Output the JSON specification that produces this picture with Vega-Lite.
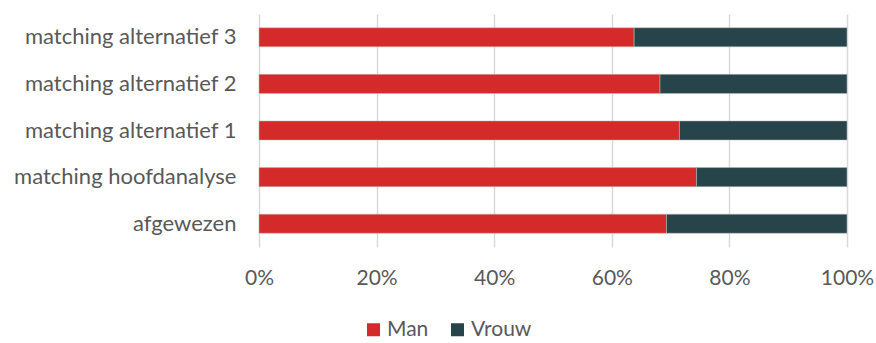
{
  "$schema": "https://vega.github.io/schema/vega-lite/v6.json",
  "autosize": {"type": "none"},
  "width": 588,
  "height": 233,
  "padding": {"left": 259, "top": 14, "right": 29, "bottom": 96},
  "background": "white",
  "data": {"values": [
    {"categorie": "matching alternatief 3", "geslacht": "Man", "aandeel": 63.8},
    {"categorie": "matching alternatief 3", "geslacht": "Vrouw", "aandeel": 36.2},
    {"categorie": "matching alternatief 2", "geslacht": "Man", "aandeel": 68.2},
    {"categorie": "matching alternatief 2", "geslacht": "Vrouw", "aandeel": 31.8},
    {"categorie": "matching alternatief 1", "geslacht": "Man", "aandeel": 71.5},
    {"categorie": "matching alternatief 1", "geslacht": "Vrouw", "aandeel": 28.5},
    {"categorie": "matching hoofdanalyse", "geslacht": "Man", "aandeel": 74.4},
    {"categorie": "matching hoofdanalyse", "geslacht": "Vrouw", "aandeel": 25.6},
    {"categorie": "afgewezen", "geslacht": "Man", "aandeel": 69.3},
    {"categorie": "afgewezen", "geslacht": "Vrouw", "aandeel": 30.7}
  ]},
  "mark": {"type": "bar", "stroke": "#bfbfbf", "strokeWidth": 0.5},
  "encoding": {
    "y": {
      "field": "categorie", "type": "nominal",
      "sort": ["matching alternatief 3", "matching alternatief 2", "matching alternatief 1", "matching hoofdanalyse", "afgewezen"],
      "scale": {"paddingInner": 0.59, "paddingOuter": 0.295},
      "axis": {"title": null, "ticks": false, "domain": false, "labelPadding": 23, "labelFontSize": 22, "labelLimit": 300, "labelColor": "#595959", "labelFont": "Lato"}
    },
    "x": {
      "field": "aandeel", "type": "quantitative", "stack": "normalize",
      "scale": {"domain": [0, 1]},
      "axis": {"title": null, "format": "%", "values": [0, 0.2, 0.4, 0.6, 0.8, 1], "ticks": false, "domain": false, "grid": true, "gridColor": "#d9d9d9", "gridWidth": 1.5, "labelPadding": 20, "labelFontSize": 21, "labelColor": "#595959", "labelFont": "Lato", "labelFlush": false}
    },
    "color": {
      "field": "geslacht", "type": "nominal",
      "scale": {"domain": ["Man", "Vrouw"], "range": ["#d42a2a", "#27444a"]},
      "legend": {"title": null, "orient": "none", "direction": "horizontal", "legendX": 104, "legendY": 305, "symbolType": "square", "symbolSize": 169, "symbolStrokeWidth": 0, "labelFontSize": 21, "labelColor": "#595959", "labelFont": "Lato", "labelOffset": 3, "columnPadding": 18}
    }
  },
  "config": {"view": {"stroke": null}}
}
